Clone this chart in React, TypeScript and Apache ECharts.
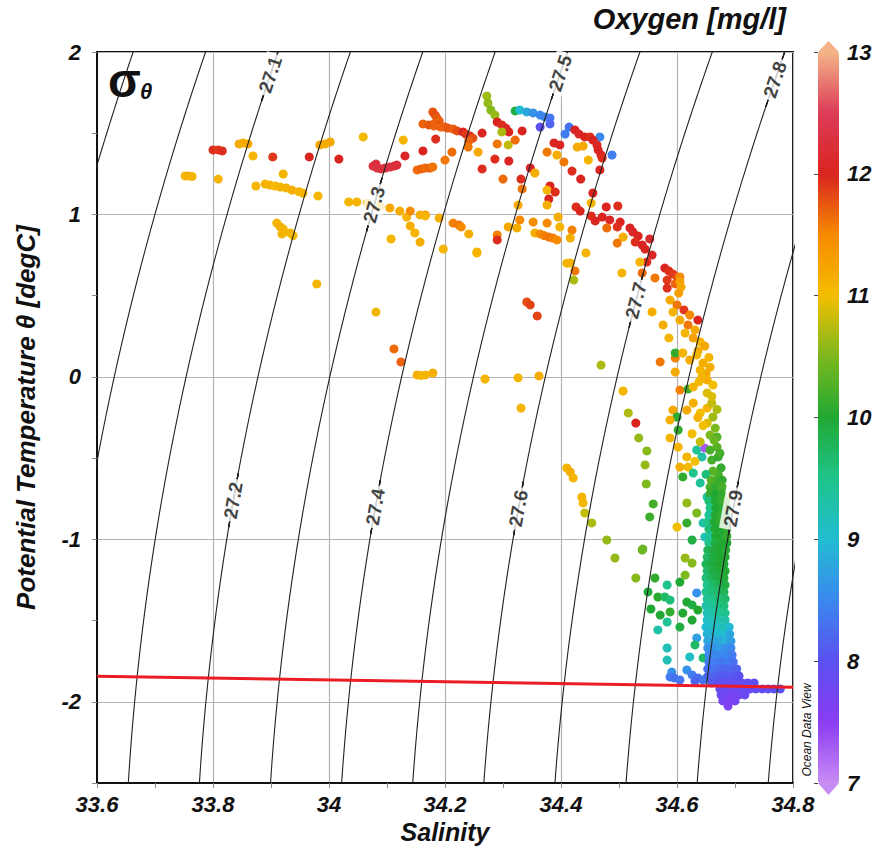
import React, { useEffect, useRef } from "react";
import * as echarts from "echarts";

// ---------- layout ----------
const W = 872;
const H = 846;
const GRID = { left: 97, right: 79, top: 52, bottom: 63 };
const CB = { left: 818, width: 21 };
const FONT = 'Arial, "Liberation Sans", Helvetica, sans-serif';

// ---------- axes ----------
const X_MIN = 33.6;
const X_MAX = 34.8;
const X_INTERVAL = 0.2;
const Y_MIN = -2.5;
const Y_MAX = 2;
const Y_INTERVAL = 0.5;
const O2_MIN = 7;
const O2_MAX = 13;

const titleText = "Oxygen [mg/l]";
const xName = "Salinity";
const yName = "Potential Temperature θ [degC]";

// oxygen colour scale 7 .. 13 mg/l (every 0.5)
const oxygenColors = [
  "#c98cf4", "#8a3cf2", "#5a50f0", "#3b88ee", "#22bcd2", "#1fc48a",
  "#20a832", "#7cb81e", "#f4be00", "#f68a00", "#da2420", "#dc3c58", "#f4b488",
];

// isopycnal levels (sigma-theta) and where each label sits [level, theta]
const sigmaLevels = [26.9, 27.0, 27.1, 27.2, 27.3, 27.4, 27.5, 27.6, 27.7, 27.8, 27.9, 28.0];
const sigmaLabels: [number, number][] = [
  [27.1, 1.86], [27.5, 1.87], [27.8, 1.83], [27.3, 1.06], [27.7, 0.47],
  [27.2, -0.76], [27.4, -0.8], [27.6, -0.81], [27.9, -0.81],
];

// ---------- data: [salinity, potential temperature, oxygen] ----------
const shelfWater = [
  [33.752, 1.237, 11.1], [33.758, 1.237, 11.15], [33.764, 1.234, 11.1],
  [33.800, 1.397, 11.95], [33.809, 1.397, 11.9], [33.816, 1.391, 11.95],
  [33.809, 1.218, 11.1],
  [33.845, 1.434, 11.2], [33.852, 1.440, 11.15], [33.860, 1.434, 11.2],
  [33.869, 1.360, 11.1], [33.874, 1.175, 11.1],
  [33.903, 1.354, 11.9], [33.921, 1.249, 11.1],
  [33.890, 1.187, 11.1], [33.898, 1.181, 11.1], [33.907, 1.175, 11.05], [33.916, 1.169, 11.1],
  [33.926, 1.163, 11.1], [33.936, 1.150, 11.15], [33.948, 1.140, 11.1], [33.955, 1.132, 11.1],
  [33.981, 1.114, 11.1],
  [33.910, 0.947, 11.1], [33.916, 0.923, 11.15], [33.921, 0.911, 11.1], [33.919, 0.880, 11.1],
  [33.933, 0.886, 11.1], [33.938, 0.870, 11.05],
  [33.966, 1.354, 12.0], [33.984, 1.428, 11.2], [33.993, 1.434, 11.15], [34.002, 1.446, 11.2],
  [34.017, 1.341, 12.0], [34.059, 1.477, 11.05],
  [33.979, 0.572, 11.1], [34.081, 0.399, 11.1], [34.112, 0.172, 11.65], [34.124, 0.092, 11.7],
  [34.152, 0.012, 11.15], [34.159, 0.009, 11.1], [34.166, 0.012, 11.1], [34.179, 0.024, 11.15],
];

const upperWater = [
  [34.034, 1.077, 11.1], [34.048, 1.077, 11.1], [34.066, 1.070, 11.15], [34.088, 1.052, 11.1],
  [34.105, 1.040, 11.2], [34.122, 1.021, 11.2], [34.134, 0.984, 11.1], [34.140, 0.929, 11.15],
  [34.148, 0.886, 11.1], [34.157, 0.830, 11.15],
  [34.140, 1.021, 11.5], [34.166, 0.997, 11.45], [34.190, 0.978, 11.15], [34.107, 0.849, 11.1],
  [34.197, 0.787, 11.1], [34.128, 1.458, 11.1], [34.184, 1.464, 11.95], [34.162, 1.391, 12.0],
  [34.131, 1.360, 12.05],
  [34.076, 1.298, 12.3], [34.083, 1.286, 12.35], [34.090, 1.280, 12.3], [34.097, 1.286, 12.25],
  [34.105, 1.292, 12.3], [34.112, 1.298, 12.25], [34.117, 1.304, 12.2], [34.081, 1.310, 12.3],
  [34.152, 1.274, 11.65], [34.159, 1.280, 11.7], [34.166, 1.286, 11.65], [34.174, 1.286, 11.7],
  [34.179, 1.292, 11.6],
  [34.179, 1.631, 11.75], [34.183, 1.612, 11.8], [34.186, 1.594, 11.75], [34.190, 1.575, 11.7],
  [34.181, 1.557, 11.7], [34.190, 1.545, 11.8], [34.200, 1.538, 11.75],
  [34.162, 1.557, 11.7], [34.172, 1.551, 11.75], [34.181, 1.545, 11.7], [34.193, 1.538, 11.7],
  [34.205, 1.532, 11.75], [34.214, 1.526, 11.7], [34.221, 1.514, 11.8],
  [34.231, 1.508, 12.0], [34.236, 1.495, 11.9], [34.243, 1.483, 11.95], [34.248, 1.470, 11.8],
  [34.241, 1.452, 11.7],
  [34.200, 1.335, 11.6], [34.212, 1.384, 11.65], [34.240, 1.415, 11.6], [34.257, 1.384, 11.2],
  [34.264, 1.501, 12.0], [34.290, 1.434, 11.6], [34.309, 1.428, 10.8], [34.321, 1.458, 11.65],
  [34.333, 1.514, 12.0], [34.286, 1.341, 11.95], [34.310, 1.329, 12.0], [34.264, 1.280, 11.95],
  [34.300, 1.218, 11.65], [34.331, 1.218, 11.95], [34.347, 1.286, 12.05], [34.355, 1.255, 11.15],
  [34.333, 1.157, 11.6],
  [34.157, 0.997, 11.15], [34.166, 0.991, 11.1],
  [34.214, 0.947, 11.55], [34.224, 0.935, 11.6], [34.228, 0.923, 11.5],
  [34.241, 0.880, 11.15], [34.255, 0.769, 11.1], [34.290, 0.874, 11.55], [34.290, 0.843, 11.95],
  [34.309, 0.923, 11.2], [34.324, 0.917, 11.15], [34.329, 0.966, 11.5], [34.352, 0.953, 11.45],
  [34.355, 0.886, 11.15], [34.376, 0.947, 11.5],
  [34.364, 0.880, 11.5], [34.371, 0.870, 11.55], [34.379, 0.861, 11.6], [34.386, 0.855, 11.55],
  [34.393, 0.843, 11.5],
  [34.395, 0.984, 11.15], [34.398, 0.923, 11.1], [34.419, 0.904, 11.55], [34.416, 0.855, 11.15],
];

const surfaceWater = [
  [34.272, 1.729, 10.65], [34.274, 1.686, 10.6], [34.279, 1.643, 10.55], [34.286, 1.612, 10.6],
  [34.290, 1.569, 12.0], [34.298, 1.551, 11.95], [34.305, 1.532, 12.05], [34.310, 1.508, 12.0],
  [34.298, 1.508, 10.7],
  [34.321, 1.637, 9.9], [34.329, 1.643, 9.0], [34.341, 1.631, 8.8], [34.352, 1.625, 8.6],
  [34.364, 1.612, 8.5], [34.372, 1.600, 8.45], [34.381, 1.594, 8.35], [34.381, 1.557, 8.2],
  [34.364, 1.538, 8.0],
  [34.414, 1.538, 8.3], [34.407, 1.495, 8.4], [34.467, 1.477, 8.5], [34.488, 1.366, 8.4],
];

const warmDeepArc = [
  [34.424, 1.520, 12.0], [34.431, 1.495, 12.05], [34.441, 1.477, 12.0], [34.450, 1.477, 11.95],
  [34.455, 1.458, 12.0], [34.462, 1.428, 12.05], [34.464, 1.397, 12.0], [34.469, 1.366, 12.0],
  [34.471, 1.347, 11.95],
  [34.428, 1.415, 11.15], [34.438, 1.421, 11.2], [34.447, 1.335, 11.1],
  [34.376, 1.384, 11.6], [34.388, 1.440, 12.0], [34.398, 1.428, 12.0], [34.393, 1.366, 11.15],
  [34.405, 1.323, 11.6], [34.419, 1.267, 11.95], [34.434, 1.218, 12.0], [34.467, 1.274, 12.0],
  [34.455, 1.132, 12.0], [34.452, 1.070, 11.1], [34.381, 1.175, 12.0], [34.376, 1.150, 11.1],
  [34.390, 1.138, 11.95], [34.379, 1.095, 12.0], [34.376, 1.058, 11.15], [34.326, 1.058, 11.15],
  [34.426, 1.046, 11.95], [34.433, 1.021, 12.0], [34.452, 0.991, 11.95], [34.459, 0.960, 12.0],
  [34.478, 1.046, 12.0], [34.498, 1.052, 11.95], [34.471, 0.984, 12.0], [34.484, 0.966, 12.05],
  [34.502, 0.953, 12.0], [34.497, 0.923, 11.95], [34.479, 0.917, 11.65], [34.507, 0.861, 11.15],
  [34.497, 0.824, 11.6],
  [34.519, 0.917, 12.0], [34.524, 0.892, 12.05], [34.533, 0.867, 12.0], [34.528, 0.830, 11.95],
  [34.540, 0.812, 12.0], [34.553, 0.849, 12.1], [34.545, 0.787, 12.0], [34.557, 0.750, 12.05],
  [34.548, 0.707, 11.95],
  [34.536, 0.707, 11.1], [34.540, 0.640, 11.65], [34.562, 0.609, 11.6],
  [34.579, 0.670, 12.0], [34.586, 0.652, 11.95], [34.593, 0.634, 11.9], [34.600, 0.615, 11.8],
  [34.583, 0.596, 11.9], [34.597, 0.572, 11.7], [34.583, 0.547, 11.95],
  [34.605, 0.615, 11.5], [34.605, 0.585, 11.3], [34.607, 0.553, 11.2], [34.603, 0.516, 11.3],
  [34.505, 0.640, 11.1], [34.416, 0.701, 11.1], [34.424, 0.652, 11.6], [34.422, 0.596, 10.7],
  [34.443, 0.763, 11.1], [34.410, 0.700, 11.1],
];

const midWater = [
  [34.341, 0.461, 11.8], [34.347, 0.443, 11.85], [34.359, 0.375, 11.85],
  [34.269, -0.013, 11.1], [34.326, -0.006, 11.1], [34.362, 0.006, 11.15], [34.331, -0.192, 11.1],
  [34.255, 0.763, 11.1],
  [34.588, 0.473, 11.2], [34.600, 0.443, 11.6], [34.612, 0.412, 11.9], [34.622, 0.381, 11.5],
  [34.593, 0.399, 11.1], [34.605, 0.350, 11.2], [34.619, 0.320, 11.6], [34.631, 0.289, 11.2],
  [34.614, 0.270, 11.1], [34.628, 0.240, 11.3], [34.640, 0.215, 11.1], [34.648, 0.190, 11.2],
  [34.576, 0.320, 11.15], [34.586, 0.240, 11.1], [34.557, 0.400, 11.15], [34.636, 0.350, 12.0],
  [34.636, 0.160, 11.15], [34.655, 0.120, 11.1], [34.650, 0.020, 11.2], [34.638, -0.030, 11.05],
  [34.571, 0.092, 11.6], [34.597, 0.116, 11.55], [34.597, 0.147, 10.1], [34.597, 0.030, 11.2],
  [34.610, 0.147, 11.1], [34.622, 0.104, 11.15], [34.634, 0.135, 11.1], [34.645, 0.085, 11.15],
  [34.640, 0.042, 11.1], [34.652, -0.019, 11.15], [34.652, -0.099, 10.9], [34.605, -0.081, 11.55],
  [34.619, -0.075, 10.2], [34.628, -0.062, 11.1], [34.593, -0.204, 11.2], [34.600, -0.247, 10.05],
  [34.588, -0.265, 11.15], [34.602, -0.327, 10.1], [34.588, -0.376, 11.1], [34.617, -0.204, 11.2],
  [34.628, -0.161, 11.15], [34.640, -0.222, 11.0], [34.652, -0.192, 11.1], [34.660, -0.161, 10.8],
  [34.662, -0.247, 10.65], [34.652, -0.284, 10.9], [34.666, -0.315, 10.5], [34.657, -0.358, 10.5],
  [34.669, -0.370, 10.3], [34.602, -0.432, 11.1], [34.617, -0.493, 11.1], [34.619, -0.555, 11.05],
  [34.605, -0.555, 11.15], [34.634, -0.450, 9.4], [34.643, -0.493, 9.3], [34.648, -0.438, 7.3],
  [34.657, -0.450, 10.2], [34.669, -0.432, 10.3], [34.660, -0.512, 10.2], [34.671, -0.493, 10.1],
  [34.610, -0.616, 10.1], [34.628, -0.592, 9.5], [34.640, -0.653, 9.4], [34.652, -0.739, 9.3],
  [34.617, -0.776, 10.6], [34.634, -0.838, 10.5], [34.617, -0.899, 10.1], [34.626, -1.004, 9.9],
  [34.600, -0.924, 11.0], [34.645, -0.899, 9.3], [34.648, -0.985, 9.2],
  [34.643, 0.000, 11.1], [34.657, 0.060, 11.15], [34.662, -0.050, 11.0], [34.660, -0.120, 10.9],
  [34.669, -0.200, 10.7], [34.645, -0.300, 11.0], [34.636, -0.250, 11.1], [34.626, -0.350, 11.0],
  [34.640, -0.400, 10.8], [34.664, -0.390, 10.4], [34.674, -0.470, 10.2], [34.676, -0.560, 10.1],
  [34.671, -0.600, 10.2], [34.662, -0.580, 10.3], [34.650, -0.600, 9.6], [34.631, -0.520, 11.0],
  [34.469, 0.073, 10.7], [34.507, -0.087, 11.1], [34.516, -0.222, 10.7], [34.529, -0.284, 12.0],
  [34.534, -0.376, 10.6], [34.548, -0.456, 10.55], [34.545, -0.542, 10.6], [34.547, -0.659, 10.5],
  [34.559, -0.782, 10.2], [34.553, -0.862, 10.15], [34.541, -1.060, 10.3],
  [34.410, -0.561, 11.1], [34.416, -0.585, 11.15], [34.421, -0.622, 11.1],
  [34.436, -0.739, 11.1], [34.438, -0.776, 11.05], [34.441, -0.838, 10.8], [34.453, -0.899, 10.7],
  [34.479, -1.004, 10.6],
];

const coldScatter = [
  [34.493, -1.115, 10.6], [34.529, -1.238, 10.55], [34.540, -1.066, 10.4], [34.562, -1.238, 10.1],
  [34.550, -1.324, 9.95], [34.555, -1.429, 10.0], [34.567, -1.355, 10.05], [34.579, -1.355, 9.7],
  [34.588, -1.374, 9.6], [34.583, -1.281, 9.5], [34.571, -1.466, 10.0], [34.588, -1.447, 10.1],
  [34.583, -1.509, 9.4], [34.567, -1.558, 9.3], [34.605, -1.540, 9.9], [34.610, -1.454, 10.0],
  [34.605, -1.263, 10.0], [34.614, -1.220, 10.5], [34.614, -1.115, 10.6], [34.626, -1.146, 10.55],
  [34.617, -1.386, 10.0], [34.626, -1.404, 9.9], [34.634, -1.330, 8.6], [34.636, -1.435, 10.0],
  [34.626, -1.497, 10.0], [34.634, -1.607, 8.7], [34.631, -1.650, 9.7], [34.583, -1.669, 9.2],
  [34.583, -1.743, 9.2], [34.622, -1.724, 9.1], [34.645, -1.730, 9.7], [34.591, -1.817, 8.6],
  [34.588, -1.847, 8.4], [34.595, -1.853, 8.3], [34.605, -1.866, 8.35],
  [34.617, -1.804, 8.6], [34.626, -1.835, 8.4], [34.636, -1.853, 8.3], [34.645, -1.866, 8.3],
  [34.652, -1.847, 8.35], [34.631, -1.872, 8.2],
];

const deepColumn = [
  [34.659, -0.635, 10.3], [34.669, -0.635, 10.2], [34.678, -0.635, 10.1],
  [34.657, -0.678, 10.2], [34.667, -0.678, 10.1], [34.678, -0.678, 10.2],
  [34.657, -0.721, 10.1], [34.667, -0.721, 10.0], [34.678, -0.721, 10.1],
  [34.655, -0.764, 9.6], [34.666, -0.764, 10.0], [34.676, -0.764, 10.1], [34.684, -0.764, 10.2],
  [34.657, -0.807, 9.5], [34.667, -0.807, 10.0], [34.678, -0.807, 10.05], [34.686, -0.807, 10.1],
  [34.655, -0.850, 9.4], [34.666, -0.850, 10.0], [34.676, -0.850, 10.1], [34.684, -0.850, 10.0],
  [34.653, -0.893, 9.5], [34.664, -0.893, 10.0], [34.674, -0.893, 10.1], [34.684, -0.893, 10.0],
  [34.655, -0.936, 9.6], [34.666, -0.936, 10.0], [34.676, -0.936, 10.0], [34.686, -0.936, 10.1],
  [34.657, -0.980, 9.4], [34.667, -0.980, 10.0], [34.678, -0.980, 10.0], [34.686, -0.980, 10.1],
  [34.655, -1.023, 9.5], [34.666, -1.023, 9.9], [34.676, -1.023, 10.0], [34.686, -1.023, 10.0],
  [34.653, -1.066, 9.8], [34.664, -1.066, 9.95], [34.674, -1.066, 10.0], [34.684, -1.066, 10.05],
  [34.652, -1.109, 9.7], [34.662, -1.109, 9.9], [34.672, -1.109, 10.0], [34.683, -1.109, 10.0],
  [34.650, -1.152, 9.8], [34.660, -1.152, 9.9], [34.671, -1.152, 10.0], [34.681, -1.152, 10.0],
  [34.652, -1.195, 9.7], [34.662, -1.195, 9.9], [34.672, -1.195, 9.95], [34.683, -1.195, 10.0],
  [34.650, -1.238, 9.6], [34.660, -1.238, 9.8], [34.671, -1.238, 9.9], [34.681, -1.238, 9.95],
  [34.652, -1.281, 9.5], [34.662, -1.281, 9.7], [34.672, -1.281, 9.8], [34.683, -1.281, 9.9],
  [34.650, -1.324, 9.5], [34.660, -1.324, 9.6], [34.671, -1.324, 9.7], [34.681, -1.324, 9.8],
  [34.652, -1.367, 9.4], [34.662, -1.367, 9.5], [34.672, -1.367, 9.6], [34.683, -1.367, 9.7],
  [34.650, -1.410, 9.3], [34.660, -1.410, 9.4], [34.671, -1.410, 9.5], [34.681, -1.410, 9.6],
  [34.652, -1.454, 9.2], [34.662, -1.454, 9.3], [34.672, -1.454, 9.4], [34.683, -1.454, 9.5],
  [34.652, -1.497, 9.1], [34.662, -1.497, 9.2], [34.672, -1.497, 9.25], [34.683, -1.497, 9.3],
  [34.650, -1.540, 9.0], [34.660, -1.540, 9.1], [34.671, -1.540, 9.1], [34.681, -1.540, 9.2], [34.690, -1.540, 9.0],
  [34.652, -1.583, 8.9], [34.662, -1.583, 8.9], [34.672, -1.583, 9.0], [34.683, -1.583, 9.0], [34.691, -1.583, 8.8],
  [34.653, -1.626, 8.8], [34.664, -1.626, 8.8], [34.674, -1.626, 8.8], [34.684, -1.626, 8.9], [34.693, -1.626, 8.7],
  [34.653, -1.669, 8.6], [34.664, -1.669, 8.6], [34.674, -1.669, 8.7], [34.684, -1.669, 8.6], [34.693, -1.669, 8.5],
  [34.655, -1.712, 8.5], [34.666, -1.712, 8.5], [34.676, -1.712, 8.5], [34.686, -1.712, 8.5], [34.695, -1.712, 8.4],
  [34.655, -1.755, 8.4], [34.666, -1.755, 8.4], [34.676, -1.755, 8.35], [34.686, -1.755, 8.4], [34.697, -1.755, 8.3],
  [34.653, -1.798, 8.3], [34.664, -1.798, 8.3], [34.674, -1.798, 8.25], [34.684, -1.798, 8.2], [34.695, -1.798, 8.2], [34.703, -1.798, 8.15],
  [34.655, -1.841, 8.2], [34.666, -1.841, 8.15], [34.676, -1.841, 8.1], [34.686, -1.841, 8.1], [34.697, -1.841, 8.05], [34.707, -1.841, 8.0],
];

const bottomWater = [
  [34.660, -1.884, 8.1], [34.671, -1.884, 8.0], [34.681, -1.884, 7.95], [34.691, -1.884, 7.9],
  [34.702, -1.884, 7.9], [34.712, -1.884, 7.9], [34.722, -1.884, 7.95], [34.733, -1.884, 8.0],
  [34.674, -1.921, 7.9], [34.684, -1.921, 7.85], [34.695, -1.921, 7.8], [34.705, -1.921, 7.8],
  [34.716, -1.921, 7.85], [34.726, -1.921, 7.85], [34.736, -1.921, 7.9], [34.747, -1.921, 7.9],
  [34.757, -1.921, 7.95], [34.767, -1.921, 7.95], [34.778, -1.921, 8.0],
  [34.676, -1.958, 7.8], [34.686, -1.958, 7.75], [34.697, -1.958, 7.7], [34.707, -1.958, 7.75],
  [34.717, -1.958, 7.8],
  [34.679, -1.995, 7.7], [34.690, -1.995, 7.65], [34.700, -1.995, 7.7],
  [34.688, -2.026, 7.6],
];

// ---------- seawater relations (UNESCO EOS-80 at p = 0, freezing point) ----------
function sigmaTheta(S: number, T: number) {
  const rw = 999.842594 + 6.793952e-2 * T - 9.09529e-3 * T ** 2 + 1.001685e-4 * T ** 3 -
    1.120083e-6 * T ** 4 + 6.536332e-9 * T ** 5;
  const A = 8.24493e-1 - 4.0899e-3 * T + 7.6438e-5 * T ** 2 - 8.2467e-7 * T ** 3 + 5.3875e-9 * T ** 4;
  const B = -5.72466e-3 + 1.0227e-4 * T - 1.6546e-6 * T ** 2;
  const C = 4.8314e-4;
  return rw + A * S + B * S ** 1.5 + C * S * S - 1000;
}
function salinityOn(level: number, T: number) {
  let lo = 30, hi = 38;
  for (let i = 0; i < 50; i++) {
    const mid = (lo + hi) / 2;
    if (sigmaTheta(mid, T) < level) lo = mid; else hi = mid;
  }
  return (lo + hi) / 2;
}
function freezingPoint(S: number) {
  return -0.0575 * S + 1.710523e-3 * S ** 1.5 - 2.154996e-4 * S * S;
}

function buildOption() {
  const plotW = W - GRID.left - GRID.right;
  const plotH = H - GRID.top - GRID.bottom;
  const pxPerS = plotW / (X_MAX - X_MIN);
  const pxPerT = plotH / (Y_MAX - Y_MIN);
  const GAP = 0.165;
  const STEPS = 90;

  const points = [
    ...shelfWater, ...upperWater, ...surfaceWater, ...warmDeepArc,
    ...midWater, ...coldScatter, ...deepColumn, ...bottomWater,
  ];

  const isoSeries: any[] = [];
  sigmaLevels.forEach((L) => {
    const lab = sigmaLabels.find((l) => Math.abs(l[0] - L) < 1e-6);
    const segs: number[][][] = [[]];
    for (let i = 0; i <= STEPS; i++) {
      const T = Y_MIN + ((Y_MAX - Y_MIN) * i) / STEPS;
      if (lab && T > lab[1] - GAP && T < lab[1] + GAP) {
        if (segs[segs.length - 1].length) {
          const t0 = lab[1] - GAP;
          segs[segs.length - 1].push([salinityOn(L, t0), t0]);
          segs.push([]);
          const t1 = Math.min(lab[1] + GAP, Y_MAX);
          segs[segs.length - 1].push([salinityOn(L, t1), t1]);
        }
        continue;
      }
      segs[segs.length - 1].push([salinityOn(L, T), T]);
    }
    segs.forEach((seg) => {
      if (seg.length > 1)
        isoSeries.push({
          type: "line", data: seg, showSymbol: false, symbol: "none", silent: true,
          lineStyle: { color: "#222", width: 1.1 }, z: 3, clip: true, animation: false,
        });
    });
  });

  const labelData = sigmaLabels.map(([L, T]) => {
    const S = salinityOn(L, T);
    const dSdT = (salinityOn(L, T + 0.05) - salinityOn(L, T - 0.05)) / 0.1;
    const angle = (Math.atan2(pxPerT, dSdT * pxPerS) * 180) / Math.PI;
    return { name: L.toFixed(1), value: [S, T], label: { rotate: angle } };
  });

  const axisLabelStyle = {
    fontFamily: FONT, fontSize: 22, fontWeight: "bold", fontStyle: "italic", color: "#111",
  };
  const nameStyle = {
    fontFamily: FONT, fontSize: 25, fontWeight: "bold", fontStyle: "italic", color: "#111",
  };

  return {
    animation: false,
    backgroundColor: "#fff",
    title: {
      text: titleText, right: W - 786, top: 4, padding: 0,
      textStyle: { fontFamily: FONT, fontSize: 29, fontWeight: "bold", fontStyle: "italic", color: "#111" },
    },
    grid: [
      {
        left: GRID.left, right: GRID.right, top: GRID.top, bottom: GRID.bottom,
        show: true, borderColor: "#111", borderWidth: 2, backgroundColor: "transparent",
        containLabel: false, outerBoundsMode: "none",
      },
      {
        left: CB.left, width: CB.width, top: GRID.top, bottom: GRID.bottom,
        show: false, containLabel: false, outerBoundsMode: "none",
      },
    ],
    xAxis: [
      {
        type: "value", gridIndex: 0, min: X_MIN, max: X_MAX, interval: X_INTERVAL,
        name: xName, nameLocation: "middle", nameGap: 32, nameTextStyle: nameStyle,
        axisLine: { show: true, onZero: false, lineStyle: { color: "#111", width: 2 } },
        axisTick: { show: true, length: 5, lineStyle: { color: "#888" } },
        minorTick: { show: true, splitNumber: 2, length: 5, lineStyle: { color: "#888" } },
        splitLine: { show: true, lineStyle: { color: "#b4b4b4", width: 1.2 } },
        axisLabel: { ...axisLabelStyle, margin: 10 },
      },
      { type: "value", gridIndex: 1, min: 0, max: 1, show: false },
    ],
    yAxis: [
      {
        type: "value", gridIndex: 0, min: Y_MIN, max: Y_MAX, interval: Y_INTERVAL,
        name: yName, nameLocation: "middle", nameGap: 58, nameTextStyle: { ...nameStyle, fontSize: 26 },
        axisLine: { show: true, onZero: false, lineStyle: { color: "#111", width: 2 } },
        axisTick: { show: true, length: 5, lineStyle: { color: "#888" } },
        splitLine: { show: true, lineStyle: { color: ["rgba(0,0,0,0)", "#b4b4b4"], width: 1.2 } },
        axisLabel: {
          ...axisLabelStyle, margin: 16,
          formatter: (v: number) => (Number.isInteger(v) ? String(v) : ""),
        },
      },
      {
        type: "value", gridIndex: 1, min: O2_MIN, max: O2_MAX, interval: 1, position: "right", z: 10,
        axisLine: { show: false },
        axisTick: { show: true, inside: true, length: 4, lineStyle: { color: "#444", width: 1 } },
        splitLine: { show: false },
        axisLabel: { ...axisLabelStyle, margin: 8 },
      },
    ],
    visualMap: {
      type: "continuous", min: O2_MIN, max: O2_MAX, dimension: 2, seriesIndex: 0,
      orient: "vertical", left: CB.left, top: GRID.top, padding: 0,
      itemWidth: CB.width, itemHeight: H - GRID.top - GRID.bottom,
      calculable: false, hoverLink: false, show: true,
      inRange: { color: oxygenColors },
      outOfRange: { color: ["#999"] },
    },
    graphic: [
      {
        type: "polygon", z: 100,
        shape: { points: [[CB.left, GRID.top], [CB.left + CB.width, GRID.top], [CB.left + CB.width / 2, GRID.top - 11]] },
        style: { fill: oxygenColors[oxygenColors.length - 1] },
      },
      {
        type: "polygon", z: 100,
        shape: {
          points: [[CB.left, H - GRID.bottom], [CB.left + CB.width, H - GRID.bottom],
            [CB.left + CB.width / 2, H - GRID.bottom + 12]],
        },
        style: { fill: oxygenColors[0] },
      },
      {
        type: "text", z: 100, x: GRID.left + 11, y: GRID.top + 4,
        style: { text: "σ", fontFamily: FONT, fontSize: 48, fontWeight: "bold", fill: "#111" },
      },
      {
        type: "text", z: 100, x: GRID.left + 43, y: GRID.top + 28,
        style: { text: "θ", fontFamily: FONT, fontSize: 22, fontWeight: "bold", fontStyle: "italic", fill: "#111" },
      },
      {
        type: "text", z: 100, x: W - GRID.right + 14, y: 730, rotation: Math.PI / 2,
        style: {
          text: "Ocean Data View", fontFamily: FONT, fontSize: 12, fontStyle: "italic",
          fill: "#111", align: "center", verticalAlign: "middle",
        },
      },
    ],
    series: [
      {
        type: "scatter", xAxisIndex: 0, yAxisIndex: 0, data: points, symbolSize: 9,
        itemStyle: { opacity: 1 }, silent: true, z: 2,
      },
      ...isoSeries,
      {
        type: "line", xAxisIndex: 0, yAxisIndex: 0, silent: true, showSymbol: false, symbol: "none", z: 4,
        data: [[X_MIN, freezingPoint(X_MIN)], [X_MAX, freezingPoint(X_MAX)]],
        lineStyle: { color: "#ec1c24", width: 3 },
      },
      {
        type: "scatter", xAxisIndex: 0, yAxisIndex: 0, silent: true, z: 5, symbolSize: 1,
        itemStyle: { color: "rgba(0,0,0,0)" },
        data: labelData,
        label: {
          show: true, position: "inside", formatter: "{b}",
          fontFamily: FONT, fontSize: 19, fontWeight: "bold", color: "#111",
          backgroundColor: "#fff", padding: [1, 3],
        },
      },
    ],
  };
}

export default function App() {
  const ref = useRef<HTMLDivElement>(null);
  useEffect(() => {
    if (!ref.current) return;
    const chart = echarts.init(ref.current, undefined, { renderer: "svg" });
    chart.setOption(buildOption() as any);
    return () => chart.dispose();
  }, []);
  return (
    <div
      ref={ref}
      style={{ position: "fixed", left: 0, top: 0, width: W, height: H, background: "#fff" }}
    />
  );
}
